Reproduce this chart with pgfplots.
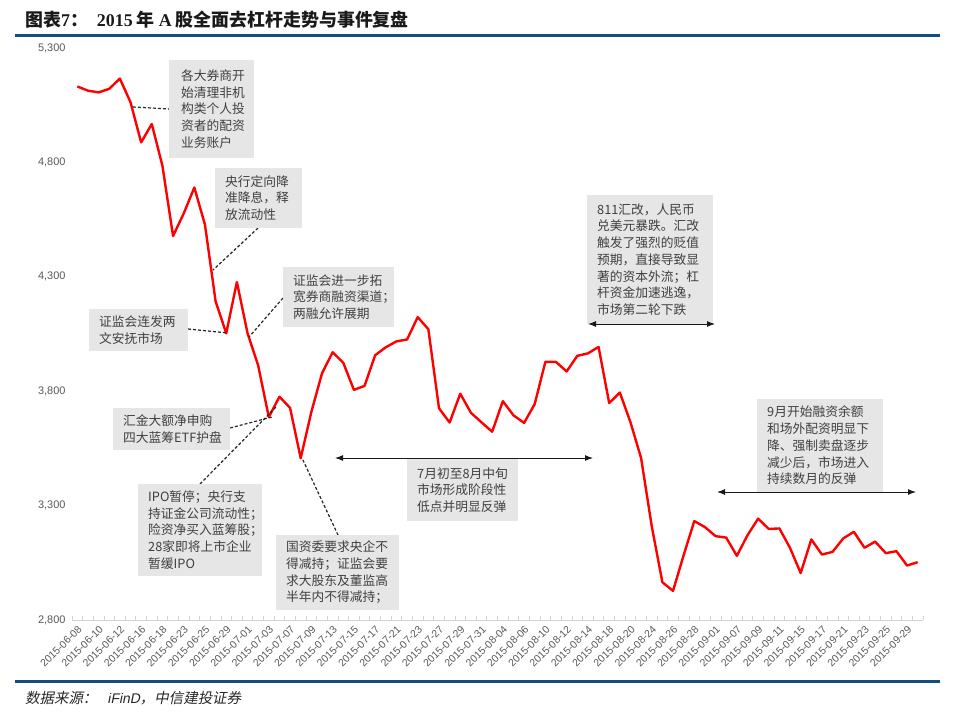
\documentclass[border=0pt]{standalone}
\usepackage{fontspec}
\usepackage{pgfplots}
\pgfplotsset{compat=1.18}
\usetikzlibrary{arrows.meta}
\setmainfont{Liberation Sans}
\newfontfamily\cjk{Noto Sans CJK SC}
\newfontfamily\cjkit[FakeSlant=0.2]{Noto Sans CJK SC}
\newfontfamily\tnr{Liberation Serif}
\newfontfamily\arit[FakeSlant=0.2]{Liberation Sans}
\definecolor{rulebl}{RGB}{22,77,128}
\definecolor{boxgray}{RGB}{230,230,230}
\definecolor{txtgray}{RGB}{64,64,64}
\definecolor{tickgray}{RGB}{89,89,89}
\definecolor{axgray}{RGB}{210,210,210}
\newcommand{\annobox}[6]{%
  \fill[boxgray] (#1,#2) rectangle ++(#3,#4);
  \node[anchor=west, align=left, inner sep=0pt, text=txtgray,
        font=\cjk\fontsize{12.8}{16.8}\selectfont] at ({#1+#5},{#2+#4/2}) {#6};
}
\begin{document}
\begin{tikzpicture}
\begin{axis}[
  at={(72bp,-620bp)}, anchor=south west,
  scale only axis, width=851bp, height=572bp,
  xmin=-0.5, xmax=79.5, ymin=2800, ymax=5300,
  axis x line*=bottom, axis y line*=left,
  x axis line style={draw=axgray, line width=0.8bp},
  y axis line style={draw=none},
  xtick={0,2,...,78},
  xticklabels={2015-06-08,2015-06-10,2015-06-12,2015-06-16,2015-06-18,2015-06-23,2015-06-25,2015-06-29,2015-07-01,2015-07-03,2015-07-07,2015-07-09,2015-07-13,2015-07-15,2015-07-17,2015-07-21,2015-07-23,2015-07-27,2015-07-29,2015-07-31,2015-08-04,2015-08-06,2015-08-10,2015-08-12,2015-08-14,2015-08-18,2015-08-20,2015-08-24,2015-08-26,2015-08-28,2015-09-01,2015-09-07,2015-09-09,2015-09-11,2015-09-15,2015-09-17,2015-09-21,2015-09-23,2015-09-25,2015-09-29},
  minor xtick={-0.5,0.5,...,79.5},
  major tick length=0pt,
  minor tick length=4bp,
  minor tick style={draw=axgray, line width=0.8bp},
  tick align=inside,
  ytick={2800,3300,3800,4300,4800,5300},
  yticklabels={{2,800},{3,300},{3,800},{4,300},{4,800},{5,300}},
  ticklabel style={font=\fontsize{11}{13}\selectfont, text=tickgray},
  yticklabel style={xshift=-3bp},
  xticklabel style={rotate=45, anchor=north east, font=\fontsize{10.5}{12}\selectfont},
  clip=false,
]
\addplot[color=red, line width=2.4bp, line join=round] table {
0 5131.88
1 5113.53
2 5106.04
3 5121.59
4 5166.35
5 5062.99
6 4887.43
7 4967.90
8 4785.36
9 4478.36
10 4576.49
11 4690.15
12 4527.78
13 4192.87
14 4053.03
15 4277.22
16 4053.70
17 3912.77
18 3686.92
19 3775.91
20 3727.12
21 3507.19
22 3709.33
23 3877.80
24 3970.39
25 3924.49
26 3805.70
27 3823.18
28 3957.35
29 3992.11
30 4017.67
31 4026.05
32 4123.92
33 4070.91
34 3725.56
35 3663.00
36 3789.17
37 3705.77
38 3663.73
39 3622.91
40 3756.54
41 3694.57
42 3661.54
43 3744.20
44 3928.42
45 3927.91
46 3886.32
47 3954.56
48 3965.33
49 3993.67
50 3748.16
51 3794.11
52 3664.29
53 3507.74
54 3209.91
55 2964.97
56 2927.29
57 3083.59
58 3232.35
59 3205.99
60 3166.62
61 3160.17
62 3080.42
63 3170.45
64 3243.09
65 3197.89
66 3200.23
67 3114.80
68 3005.17
69 3152.26
70 3086.06
71 3097.92
72 3156.54
73 3185.62
74 3115.89
75 3142.69
76 3092.35
77 3100.76
78 3038.14
79 3052.78
};
\end{axis}
\begin{scope}[x=1bp, y=-1bp]
\useasboundingbox (0,0) rectangle (960,712);
% title
\node[anchor=base west, inner sep=0pt, text={rgb,255:red,26;green,26;blue,26}] at (25,27)
  {{\cjk\bfseries\fontsize{18}{20}\selectfont 图表}{\tnr\bfseries\fontsize{18}{20}\selectfont 7}{\cjk\bfseries\fontsize{18}{20}\selectfont ：}\hspace{9bp}{\tnr\bfseries\fontsize{18}{20}\selectfont 2015}\hspace{4bp}{\cjk\bfseries\fontsize{18}{20}\selectfont 年}\hspace{4bp}{\tnr\bfseries\fontsize{18}{20}\selectfont A}\hspace{4bp}{\cjk\bfseries\fontsize{18}{20}\selectfont 股全面去杠杆走势与事件复盘}};
\fill[rulebl] (15,34.5) rectangle (940,37.5);
\fill[rulebl] (15,680) rectangle (940,683);
% footer
\node[anchor=base west, inner sep=0pt, text={rgb,255:red,38;green,38;blue,38}] at (25,703)
  {{\cjkit\fontsize{14.5}{16}\selectfont 数据来源：}\hspace{10bp}{\arit\fontsize{14}{16}\selectfont iFinD}{\cjkit\fontsize{14.5}{16}\selectfont ，中信建投证券}};
% leaders
\begin{scope}[densely dashed, line width=1.2bp, black!85, dash pattern=on 3bp off 2bp]
\draw (133,107) -- (170,109);
\draw (258,228) -- (213,270);
\draw (283,298) -- (249,337);
\draw (188,329) -- (228,333);
\draw (230,428) -- (272,417);
\draw (200,484) -- (277,406);
\draw (338,535) -- (302,458);
\end{scope}
% boxes
\annobox{169}{60}{85}{98}{12}{各大券商开\\始清理非机\\构类个人投\\资者的配资\\业务账户}
\annobox{215}{168}{87}{60}{10}{央行定向降\\准降息，释\\放流动性}
\annobox{283}{267}{111}{60}{10}{证监会进一步拓\\宽券商融资渠道；\\两融允许展期}
\annobox{89}{309}{99}{42}{10}{证监会连发两\\文安抚市场}
\annobox{113}{408}{117}{42}{10}{汇金大额净申购\\四大蓝筹ETF护盘}
\annobox{138}{484}{124}{92}{10}{IPO暂停；央行支\\持证金公司流动性；\\险资净买入蓝筹股；\\28家即将上市企业\\暂缓IPO}
\annobox{276}{535}{123}{75}{10}{国资委要求央企不\\得减持；证监会要\\求大股东及董监高\\半年内不得减持；}
\annobox{407}{459}{111}{62}{10}{7月初至8月中旬\\市场形成阶段性\\低点并明显反弹}
\annobox{587}{195}{126}{129}{10}{811汇改，人民币\\兑美元暴跌。汇改\\触发了强烈的贬值\\预期，直接导致显\\著的资本外流；杠\\杆资金加速逃逸，\\市场第二轮下跌}
\annobox{757}{399}{126}{93}{10}{9月开始融资余额\\和场外配资明显下\\降、强制卖盘逐步\\减少后，市场进入\\持续数月的反弹}
% arrows
\begin{scope}[line width=1bp, black!90, {Latex[length=8bp,width=6bp]}-{Latex[length=8bp,width=6bp]}]
\draw (335,458) -- (593,458);
\draw (588,324) -- (715,324);
\draw (717,492) -- (916,492);
\end{scope}
\end{scope}
\end{tikzpicture}
\end{document}
